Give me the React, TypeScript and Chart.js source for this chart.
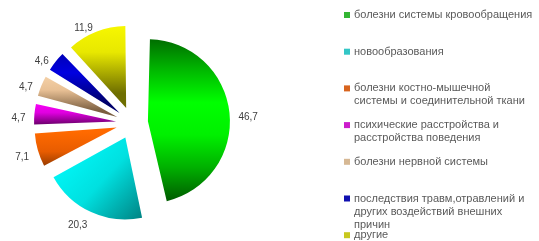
import React, { useEffect, useRef } from "react";
import { Chart, registerables } from "chart.js";

Chart.register(...registerables);

// ---------- data ----------
const categories = [
  "болезни системы кровообращения",
  "новообразования",
  "болезни костно-мышечной системы и соединительной ткани",
  "психические расстройства и расстройства поведения",
  "болезни нервной системы",
  "последствия травм,отравлений и других воздействий внешних причин",
  "другие",
];
const values = [46.7, 20.3, 7.1, 4.7, 4.7, 4.6, 11.9];
const valueLabels = ["46,7", "20,3", "7,1", "4,7", "4,7", "4,6", "11,9"];
const legendLines = [
  ["болезни системы кровообращения"],
  ["новообразования"],
  ["болезни костно-мышечной", "системы и соединительной ткани"],
  ["психические расстройства и", "расстройства поведения"],
  ["болезни нервной системы"],
  ["последствия травм,отравлений и", "других воздействий внешних", "причин"],
  ["другие"],
];

// ---------- styles ----------
const gradientStops: string[][] = [
  ["#006a00", "#00b800", "#00ff00", "#00f000", "#00b000", "#005e00"],
  ["#00ffff", "#00e0e0", "#007a7a"],
  ["#ff6a00", "#e85c00", "#7a3000"],
  ["#ff00ff", "#e000e0", "#6a006a"],
  ["#fbd9b0", "#e8c095", "#7a5e40"],
  ["#0000a0", "#0000e0", "#00006a"],
  ["#ffff00", "#e8e800", "#6e6e00"],
];
const gradientDiagonal = [false, true, false, false, false, false, false];
const legendColors = ["#33b533", "#33c6c6", "#d8641e", "#cc1ccc", "#d6b894", "#1010b0", "#c8c81e"];

const RADIUS = 82;
const EXPLODE = 16;
const LABEL_GAP = 9;
const LABEL_DY = 5;
const FONT = '10px "Liberation Sans", Arial, sans-serif';
const LEGEND_FONT = '11px "Liberation Sans", Arial, sans-serif';

function sliceAngles(i: number) {
  const total = values.reduce((a, b) => a + b, 0);
  let start = -Math.PI / 2;
  for (let j = 0; j < i; j++) start += (values[j] / total) * Math.PI * 2;
  const end = start + (values[i] / total) * Math.PI * 2;
  return { start, end };
}

function offsetFor(i: number) {
  // Chart.js translates arcs by offset/4 along the bisector
  return EXPLODE * 4;
}

function sliceGradient(c: any) {
  const chart = c.chart;
  const area = chart.chartArea;
  const i = c.dataIndex;
  const stops = gradientStops[i];
  if (!area || i === undefined) return stops[1];
  const { start, end } = sliceAngles(i);
  const mid = (start + end) / 2;
  const cx = (area.left + area.right) / 2 + Math.cos(mid) * EXPLODE;
  const cy = (area.top + area.bottom) / 2 + Math.sin(mid) * EXPLODE;
  let minX = cx, maxX = cx, minY = cy, maxY = cy;
  for (let k = 0; k <= 30; k++) {
    const a = start + ((end - start) * k) / 30;
    const px = cx + Math.cos(a) * RADIUS;
    const py = cy + Math.sin(a) * RADIUS;
    minX = Math.min(minX, px); maxX = Math.max(maxX, px);
    minY = Math.min(minY, py); maxY = Math.max(maxY, py);
  }
  const g = gradientDiagonal[i]
    ? chart.ctx.createLinearGradient(minX, minY, maxX, maxY)
    : chart.ctx.createLinearGradient(cx, minY, cx, maxY);
  stops.forEach((s, k) => g.addColorStop(k / (stops.length - 1), s));
  return g;
}

const radiusFix = {
  id: "radiusFix",
  afterDatasetsUpdate(chart: any) {
    const meta = chart.getDatasetMeta(0);
    meta.data.forEach((arc: any, i: number) => {
      const off = offsetFor(i) / 4;
      const fix = 1 - Math.sin(Math.min(Math.PI, arc.circumference || 0));
      arc.outerRadius = RADIUS - off * fix;
    });
  },
};

const valueLabelPlugin = {
  id: "valueLabels",
  afterDatasetsDraw(chart: any) {
    const meta = chart.getDatasetMeta(0);
    const ctx = chart.ctx;
    ctx.save();
    ctx.font = FONT;
    ctx.fillStyle = "#404040";
    ctx.textBaseline = "middle";
    meta.data.forEach((arc: any, i: number) => {
      const { x, y, startAngle, endAngle } = arc.getProps(["x", "y", "startAngle", "endAngle"], true);
      const mid = (startAngle + endAngle) / 2;
      const r = RADIUS + EXPLODE + LABEL_GAP;
      const c = Math.cos(mid);
      ctx.textAlign = c > 0.25 ? "left" : c < -0.25 ? "right" : "center";
      ctx.fillText(valueLabels[i], x + c * r, y + Math.sin(mid) * r + LABEL_DY);
    });
    ctx.restore();
  },
};

const legendPlugin = {
  id: "sideLegend",
  afterDraw(chart: any) {
    const ctx = chart.ctx;
    ctx.save();
    ctx.font = LEGEND_FONT;
    ctx.textBaseline = "middle";
    ctx.textAlign = "left";
    const x0 = 344;
    const y0 = 15;
    const step = 36.7;
    const lh = 13;
    legendLines.forEach((lines, i) => {
      const y = y0 + step * i;
      ctx.fillStyle = legendColors[i];
      ctx.fillRect(x0, y - 3, 6, 6);
      ctx.fillStyle = "#5a5a5a";
      lines.forEach((t, k) => ctx.fillText(t, x0 + 10, y + k * lh));
    });
    ctx.restore();
  },
};

export default function App() {
  const ref = useRef<HTMLCanvasElement>(null);
  useEffect(() => {
    document.body.style.margin = "0";
    if (!ref.current) return;
    const chart = new Chart(ref.current, {
      type: "pie",
      data: {
        labels: categories,
        datasets: [
          {
            data: values,
            backgroundColor: sliceGradient as any,
            borderWidth: 0,
            offset: values.map((_, i) => offsetFor(i)),
            radius: RADIUS,
            clip: false as any,
          } as any,
        ],
      },
      options: {
        responsive: false,
        animation: false,
        events: [],
        layout: { padding: { left: 0, right: 275, top: 5, bottom: 0 } },
        plugins: {
          legend: { display: false },
          tooltip: { enabled: false },
        },
      },
      plugins: [radiusFix, valueLabelPlugin, legendPlugin],
    });
    return () => chart.destroy();
  }, []);
  return (
    <div style={{ width: 539, height: 241, background: "#fff" }}>
      <canvas ref={ref} width={539} height={241} />
    </div>
  );
}
